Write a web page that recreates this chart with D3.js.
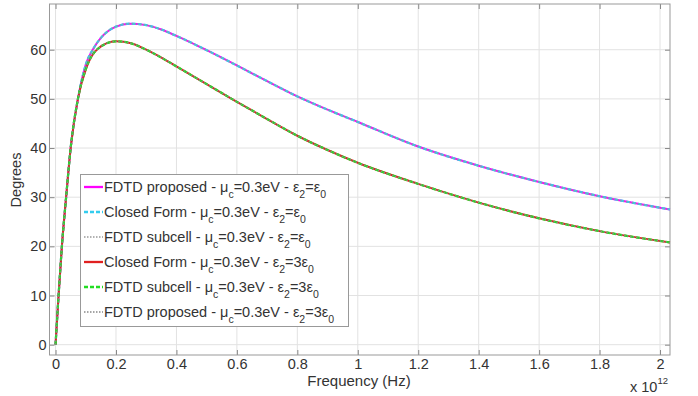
<!DOCTYPE html>
<html>
<head>
<meta charset="utf-8">
<script src="https://cdn.jsdelivr.net/npm/d3@7"></script>
<style>
html,body{margin:0;padding:0;background:#fff;}
svg{display:block;font-family:Arial,"Liberation Sans",Helvetica,sans-serif;}
</style>
</head>
<body>
<svg id="chart" width="698" height="396"></svg>
<script>
// Frequency in units of 1e12 Hz
const freqUpper = [0, 0.01, 0.021, 0.035, 0.05, 0.075, 0.1, 0.125, 0.15, 0.2, 0.245, 0.3, 0.35, 0.4, 0.45, 0.5, 0.6, 0.7, 0.8, 0.9, 1.0, 1.2, 1.4, 1.6, 1.8, 2.033];
const degUpper  = [0, 10, 20, 30, 40, 50.3, 57.0, 60.2, 62.4, 64.7, 65.3, 65.0, 64.1, 62.8, 61.4, 59.9, 56.8, 53.6, 50.5, 47.8, 45.3, 40.3, 36.4, 33.1, 30.2, 27.5];
const freqLower = [0, 0.01, 0.021, 0.035, 0.05, 0.074, 0.1, 0.14, 0.2, 0.25, 0.3, 0.35, 0.4, 0.5, 0.6, 0.7, 0.8, 0.9, 1.0, 1.2, 1.4, 1.6, 1.8, 2.033];
const degLower  = [0, 10, 20, 30, 40, 50, 56.0, 60.2, 61.7, 61.3, 60.0, 58.4, 56.6, 53.0, 49.4, 45.9, 42.5, 39.6, 37.0, 32.7, 28.9, 25.7, 23.1, 20.8];

const xTicks = [0, 0.2, 0.4, 0.6, 0.8, 1, 1.2, 1.4, 1.6, 1.8, 2];
const yTicks = [0, 10, 20, 30, 40, 50, 60];

const seriesNames = [
  ["FDTD proposed - μ", "c", "=0.3eV - ε", "2", "=ε", "0"],
  ["Closed Form - μ", "c", "=0.3eV - ε", "2", "=ε", "0"],
  ["FDTD subcell - μ", "c", "=0.3eV - ε", "2", "=ε", "0"],
  ["Closed Form - μ", "c", "=0.3eV - ε", "2", "=3ε", "0"],
  ["FDTD subcell - μ", "c", "=0.3eV - ε", "2", "=3ε", "0"],
  ["FDTD proposed - μ", "c", "=0.3eV - ε", "2", "=3ε", "0"]
];
const seriesGroup = [0, 0, 0, 1, 1, 1];
const seriesColor = ["#ff00ff", "#33ccee", "#999999", "#e02020", "#22dd22", "#888888"];
const seriesWidth = [2, 2.2, 1.2, 2, 2.2, 1.2];
const seriesDash  = [null, "4,2", "1.5,1.5", null, "4,2", "1.5,1.5"];

const svg = d3.select("#chart");
const L = 49.5, R = 670, T = 4, B = 355;
const x = d3.scaleLinear().domain([-0.02, 2.033]).range([L, R]);
const y = d3.scaleLinear().domain([-2.1, 69.3]).range([B, T]);

// grid
const g = svg.append("g");
g.selectAll(".vg").data(xTicks).enter().append("line")
  .attr("x1", d => x(d)).attr("x2", d => x(d)).attr("y1", T).attr("y2", B)
  .attr("stroke", "#e2e2e2").attr("stroke-width", 1);
g.selectAll(".hg").data(yTicks).enter().append("line")
  .attr("x1", L).attr("x2", R).attr("y1", d => y(d)).attr("y2", d => y(d))
  .attr("stroke", "#e2e2e2").attr("stroke-width", 1);

// axes (ticks inside)
const axB = d3.axisBottom(x).tickValues(xTicks).tickSizeInner(-5).tickSizeOuter(0).tickPadding(4)
  .tickFormat(d => d3.format("")(+d.toFixed(1)));
const axT = d3.axisTop(x).tickValues(xTicks).tickSizeInner(-5).tickSizeOuter(0).tickFormat("");
const axL = d3.axisLeft(y).tickValues(yTicks).tickSizeInner(-5).tickSizeOuter(0).tickPadding(3);
const axR = d3.axisRight(y).tickValues(yTicks).tickSizeInner(-5).tickSizeOuter(0).tickFormat("");

function styleAxis(sel) {
  sel.select(".domain").remove();
  sel.selectAll(".tick line").attr("stroke", "#888");
  sel.selectAll(".tick text").attr("fill", "#333").style("font-size", "14.5px").style("font-family", "Arial,'Liberation Sans',sans-serif");
}
svg.append("g").attr("transform", `translate(0,${B})`).call(axB).call(styleAxis);
svg.append("g").attr("transform", `translate(0,${T})`).call(axT).call(styleAxis);
svg.append("g").attr("transform", `translate(${L},0)`).call(axL).call(styleAxis);
svg.append("g").attr("transform", `translate(${R},0)`).call(axR).call(styleAxis);

// box
svg.append("rect").attr("x", L).attr("y", T).attr("width", R - L).attr("height", B - T)
  .attr("fill", "none").attr("stroke", "#999").attr("stroke-width", 1);

// curves
const line = d3.line().x(d => x(d[0])).y(d => y(d[1])).curve(d3.curveMonotoneX);
const dataUpper = freqUpper.map((f, i) => [f, degUpper[i]]);
const dataLower = freqLower.map((f, i) => [f, degLower[i]]);
const groups = [dataUpper, dataLower];
const plot = svg.append("g");
seriesNames.forEach((n, i) => {
  plot.append("path").datum(groups[seriesGroup[i]])
    .attr("d", line).attr("fill", "none")
    .attr("stroke", seriesColor[i]).attr("stroke-width", seriesWidth[i])
    .attr("stroke-dasharray", seriesDash[i]);
});

// legend
const lg = svg.append("g");
lg.append("rect").attr("x", 80.5).attr("y", 174.5).attr("width", 268).attr("height", 152)
  .attr("fill", "#fff").attr("stroke", "#999").attr("stroke-width", 1);
seriesNames.forEach((parts, i) => {
  const yy = 187 + i * 25;
  lg.append("line").attr("x1", 84).attr("x2", 103).attr("y1", yy).attr("y2", yy)
    .attr("stroke", seriesColor[i]).attr("stroke-width", seriesWidth[i] + 0.3)
    .attr("stroke-dasharray", seriesDash[i]);
  const t = lg.append("text").attr("x", 104).attr("y", yy + 5)
    .attr("fill", "#333").style("font-size", "14.5px");
  parts.forEach((p, k) => {
    const sub = k % 2 === 1;
    t.append("tspan").text(p)
      .attr("dy", sub ? 6 : (k === 0 ? 0 : -6))
      .style("font-size", sub ? "10.5px" : "14.5px");
  });
});

// labels
svg.append("text").attr("x", 359).attr("y", 386).attr("text-anchor", "middle")
  .attr("fill", "#333").style("font-size", "15px").text("Frequency (Hz)");
svg.append("text").attr("transform", "translate(21,180) rotate(-90)").attr("text-anchor", "middle")
  .attr("fill", "#333").style("font-size", "14.5px").text("Degrees");
const ex = svg.append("text").attr("x", 630).attr("y", 392).attr("fill", "#333").style("font-size", "14.5px");
ex.append("tspan").text("x 10");
ex.append("tspan").text("12").attr("dy", -8).style("font-size", "9.5px");
</script>
</body>
</html>
